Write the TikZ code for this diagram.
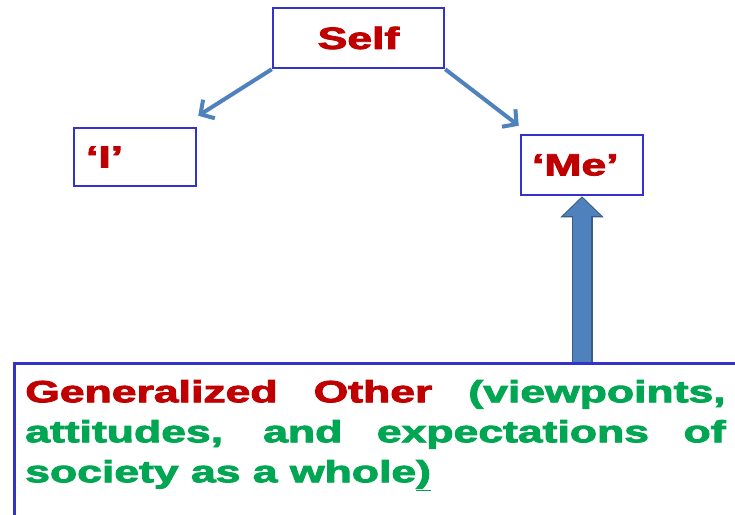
\documentclass[tikz,border=0pt]{standalone}
\usepackage{fontspec}
\setmainfont{Liberation Sans}[BoldFeatures={FakeBold=2.5}]
\usepackage{graphicx}
\usetikzlibrary{arrows.meta,calc}

\definecolor{boxblue}{RGB}{51,51,204}
\definecolor{txtred}{RGB}{192,0,0}
\definecolor{txtgreen}{RGB}{0,166,81}
\definecolor{arrowblue}{RGB}{79,129,189}
\definecolor{arrowedge}{RGB}{56,93,138}

\newcommand{\wide}[1]{\scalebox{1.45}[1]{#1}}

\tikzset{
	label box/.style={draw=boxblue, line width=2.5pt, inner sep=0pt, font=\fontsize{30.7}{40}\selectfont\bfseries, text=txtred},
	thin arrow/.style={draw=arrowblue, line width=4pt, -{Straight Barb[length=10pt,width=22pt]}},
}

\begin{document}
\begin{tikzpicture}[x=1pt, y=-1pt]
	\useasboundingbox (0,0) rectangle (735,514);
	\clip (0,0) rectangle (735,514);
	\fill[white] (0,0) rectangle (735,514);

	\node[label box, minimum width=171pt, minimum height=60pt] (self) at (358.5,38) {\wide{Self}};
	\node[label box, minimum width=122pt, minimum height=58pt, text width=98pt, align=left] (i) at (135,157) {\wide{‘I’}};
	\node[label box, minimum width=122pt, minimum height=60pt, text width=100pt, align=left] (me) at (582,165) {\wide{‘Me’}};

	\node[label box, anchor=north west, inner xsep=11pt, inner ysep=17pt, text height=22pt, text depth=150pt] (gen) at (13,362)
		{\wide{\parbox[t]{510pt}{%
			\makebox[483pt][s]{Generalized Other \textcolor{txtgreen}{(viewpoints,}}\\
			\textcolor{txtgreen}{\makebox[483pt][s]{attitudes, and expectations of}}\\
			\textcolor{txtgreen}{society as a whole\underline{)}}}}};

	% arrows from the self
	\draw[thin arrow] (self.south west) -- ($(i.north east)+(1,-11)$);
	\draw[thin arrow] (self.south east) -- ($(me.north west)+(-1,-8)$);

	% block arrow up to me
	\draw[line width=21pt, arrowedge, -{Triangle[length=21pt,width=42pt]}] (gen.north -| me.south) -- (me.south);
	\draw[line width=18pt, arrowblue, -{Triangle[length=18pt,width=36pt]}, shorten >=1.5pt] (gen.north -| me.south) -- (me.south);
\end{tikzpicture}
\end{document}
